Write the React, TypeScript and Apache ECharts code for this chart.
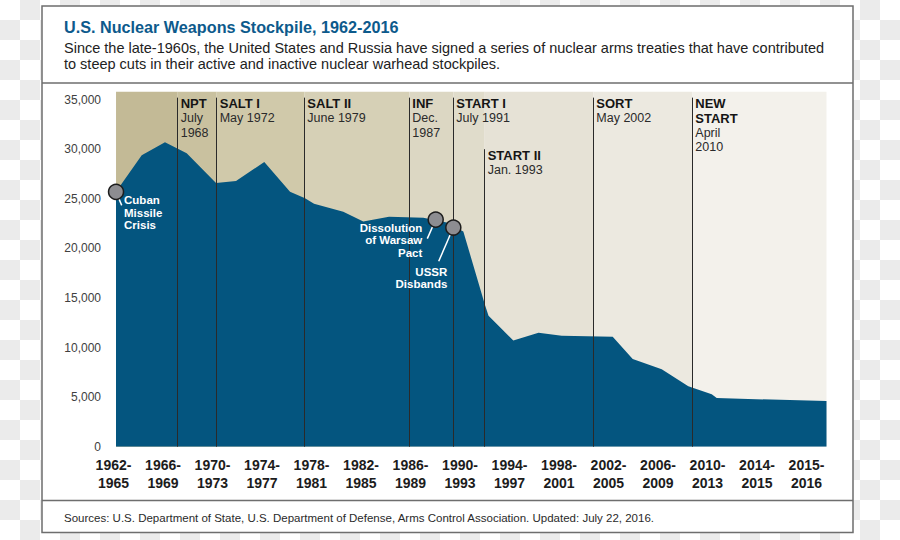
import { useEffect, useRef } from 'react';
import * as echarts from 'echarts';

// Tick labels of the period axis (one label per unit of the x scale, 0 = "1962-1965")
const periodLabels = [
  '1962-1965', '1966-1969', '1970-1973', '1974-1977', '1978-1981', '1982-1985', '1986-1989',
  '1990-1993', '1994-1997', '1998-2001', '2002-2005', '2006-2009', '2010-2013', '2014-2015', '2015-2016',
];

// Stockpile outline: position on the period scale and number of warheads
const timelinePos = [
  0.051, 0.57, 1.04, 1.479, 2.071, 2.475, 3.046, 3.566, 3.869, 4.051, 4.642, 5.046, 5.566, 6.259,
  6.731, 7.067, 7.505, 7.576, 8.077, 8.586, 9.055, 10.085, 10.489, 11.075, 11.612, 12.085, 12.186, 14.404,
];
const stockpile = [
  25700, 29400, 30700, 29600, 26600, 26800, 28700, 25700, 25050, 24500, 23700, 22700, 23200, 23100,
  22600, 21700, 14300, 13200, 10700, 11500, 11200, 11100, 8850, 7800, 6100, 5300, 4900, 4600,
];

// Arms treaties
const treatyNames = ['NPT', 'SALT I', 'SALT II', 'INF', 'START I', 'START II', 'SORT', 'NEW\nSTART'];
const treatyDates = ['July\n1968', 'May 1972', 'June 1979', 'Dec.\n1987', 'July 1991', 'Jan. 1993', 'May 2002', 'April\n2010'];
const treatyPos = [1.297, 2.085, 3.855, 5.976, 6.865, 7.499, 9.693, 11.693];
const treatyLineTop = [35200, 35200, 35200, 35200, 35200, 30000, 35200, 35200];

// Historical events
const eventNames = ['Cuban\nMissile\nCrisis', 'Dissolution\nof Warsaw\nPact', 'USSR\nDisbands'];
const eventPos = [0.051, 6.509, 6.865];
const eventValues = [25700, 22900, 22100];

const PLOT_START = 0.051;
const X_MAX = 14.404;
const Y_MAX = 35800;

const FONT = '"Liberation Sans", Arial, Helvetica, sans-serif';

export default function App() {
  const ref = useRef<HTMLDivElement>(null);

  useEffect(() => {
    const chart = echarts.init(ref.current!, null, { renderer: 'svg' });
    const bounds = [PLOT_START, ...treatyPos, X_MAX];
    const bandColors = ['#c3ba96', '#c9c19f', '#d0c9aa', '#d6d0b6', '#dcd7c3', '#e0dccb', '#e6e2d6', '#ece9e0', '#f3f1eb'];

    const frame: any[] = [
      { type: 'rect', id: 'frame', z: 0, shape: { x: 42, y: 6, width: 811, height: 526.5 }, style: { fill: '#ffffff', stroke: '#6e6e6e', lineWidth: 1.5 } },
      { type: 'line', id: 'sep1', z: 0, shape: { x1: 42, y1: 83, x2: 853, y2: 83 }, style: { stroke: '#6e6e6e', lineWidth: 1.5 } },
      { type: 'line', id: 'sep2', z: 0, shape: { x1: 42, y1: 500.5, x2: 853, y2: 500.5 }, style: { stroke: '#6e6e6e', lineWidth: 1.5 } },
      { type: 'text', id: 'title', z: 10, x: 64, y: 27.4, style: { text: 'U.S. Nuclear Weapons Stockpile, 1962-2016', fontFamily: FONT, fontSize: 16.2, fontWeight: 'bold', fill: '#0d5a8c', align: 'left', verticalAlign: 'middle' } },
      { type: 'text', id: 'sub1', z: 10, x: 64, y: 48.3, style: { text: 'Since the late-1960s, the United States and Russia have signed a series of nuclear arms treaties that have contributed', fontFamily: FONT, fontSize: 14.5, fill: '#222222', align: 'left', verticalAlign: 'middle' } },
      { type: 'text', id: 'sub2', z: 10, x: 64, y: 64.2, style: { text: 'to steep cuts in their active and inactive nuclear warhead stockpiles.', fontFamily: FONT, fontSize: 14.5, fill: '#222222', align: 'left', verticalAlign: 'middle' } },
      { type: 'text', id: 'foot', z: 10, x: 64, y: 518.4, style: { text: 'Sources: U.S. Department of State, U.S. Department of Defense, Arms Control Association. Updated: July 22, 2016.', fontFamily: FONT, fontSize: 11.5, fill: '#2a2a2a', align: 'left', verticalAlign: 'middle' } },
    ];

    chart.setOption({
      animation: false,
      backgroundColor: 'transparent',
      grid: { left: 113.5, right: 73.5, top: 91.7, bottom: 93.3, containLabel: false },
      xAxis: {
        type: 'value', min: 0, max: X_MAX, interval: 1,
        axisLine: { show: false }, axisTick: { show: false }, splitLine: { show: false },
        axisLabel: {
          formatter: (v: number) => (Number.isInteger(v) && periodLabels[v] ? periodLabels[v].replace('-', '-\n') : ''),
          showMaxLabel: false, fontFamily: FONT, fontSize: 14, fontWeight: 'bold', color: '#1c1c1c', lineHeight: 18, margin: 9,
        },
      },
      yAxis: {
        type: 'value', min: 0, max: Y_MAX, interval: 5000,
        axisLine: { show: false }, axisTick: { show: false }, splitLine: { show: false },
        axisLabel: {
          formatter: (v: number) => (v % 5000 === 0 ? v.toLocaleString('en-US') : ''),
          showMaxLabel: false, fontFamily: FONT, fontSize: 12, color: '#404040', margin: 12.5,
        },
      },
      series: [
        {
          name: 'eras', type: 'line', data: [], z: 1, silent: true,
          markArea: { silent: true, data: bandColors.map((c, i) => [{ xAxis: bounds[i], itemStyle: { color: c } }, { xAxis: bounds[i + 1] }]) },
        },
        {
          name: 'Stockpile', type: 'line', data: timelinePos.map((x, i) => [x, stockpile[i]]), z: 2, silent: true,
          symbol: 'none', lineStyle: { width: 0 }, itemStyle: { color: '#04557f' }, areaStyle: { color: '#04557f', opacity: 1 },
        },
        {
          name: 'treaties', type: 'line', data: [], z: 3, silent: true,
          markLine: {
            silent: true, symbol: ['none', 'none'], label: { show: false },
            lineStyle: { color: '#2a2a2a', width: 1, type: 'solid' },
            data: treatyPos.map((x, i) => [{ coord: [x, treatyLineTop[i]] }, { coord: [x, 0] }]),
          },
        },
        {
          name: 'events', type: 'scatter', data: eventPos.map((x, i) => [x, eventValues[i]]), z: 5, silent: true,
          symbolSize: 15, itemStyle: { color: '#8d8d91', borderColor: '#1d1d1d', borderWidth: 1.5, opacity: 1 },
        },
      ],
      graphic: { elements: frame },
    });

    const px = (x: number, y: number) => chart.convertToPixel({ xAxisIndex: 0, yAxisIndex: 0 }, [x, y]) as number[];
    const extra: any[] = [];
    treatyPos.forEach((x, i) => {
      const [lx, ly] = px(x, treatyLineTop[i]);
      const nLines = treatyNames[i].split('\n').length;
      extra.push({ type: 'text', id: 'tn' + i, z: 10, x: lx + 3, y: ly - 1, style: { text: treatyNames[i], fontFamily: FONT, fontSize: 13, fontWeight: 'bold', fill: '#151515', lineHeight: 14.5, align: 'left', verticalAlign: 'top' } });
      extra.push({ type: 'text', id: 'td' + i, z: 10, x: lx + 3, y: ly - 1 + nLines * 14.5, style: { text: treatyDates[i], fontFamily: FONT, fontSize: 12.5, fill: '#2a2a2a', lineHeight: 14.5, align: 'left', verticalAlign: 'top' } });
    });
    const labelOffsets = [[8, 2], [-13.4, 1.7], [-6, 38]];
    const labelAlign = ['left', 'right', 'right'];
    const leaderEnds = [[5.7, 13.5], [-8.4, 19], [-14.6, 33.7]];
    eventPos.forEach((x, i) => {
      const [cx, cy] = px(x, eventValues[i]);
      extra.push({ type: 'line', id: 'll' + i, z: 4, shape: { x1: cx, y1: cy, x2: cx + leaderEnds[i][0], y2: cy + leaderEnds[i][1] }, style: { stroke: '#ffffff', lineWidth: 1.5 } });
      extra.push({ type: 'text', id: 'el' + i, z: 10, x: cx + labelOffsets[i][0], y: cy + labelOffsets[i][1], style: { text: eventNames[i], fontFamily: FONT, fontSize: 11.5, fontWeight: 'bold', fill: '#ffffff', lineHeight: 12.5, align: labelAlign[i], verticalAlign: 'top' } });
    });
    chart.setOption({ graphic: { elements: [...frame, ...extra] } });

    return () => chart.dispose();
  }, []);

  return (
    <div
      style={{
        position: 'absolute', left: 0, top: 0, width: 900, height: 540,
        background: 'repeating-conic-gradient(#ebebeb 0% 25%, #ffffff 0% 50%) 0 0 / 40px 40px',
      }}
    >
      <div ref={ref} style={{ width: 900, height: 540 }} />
    </div>
  );
}
